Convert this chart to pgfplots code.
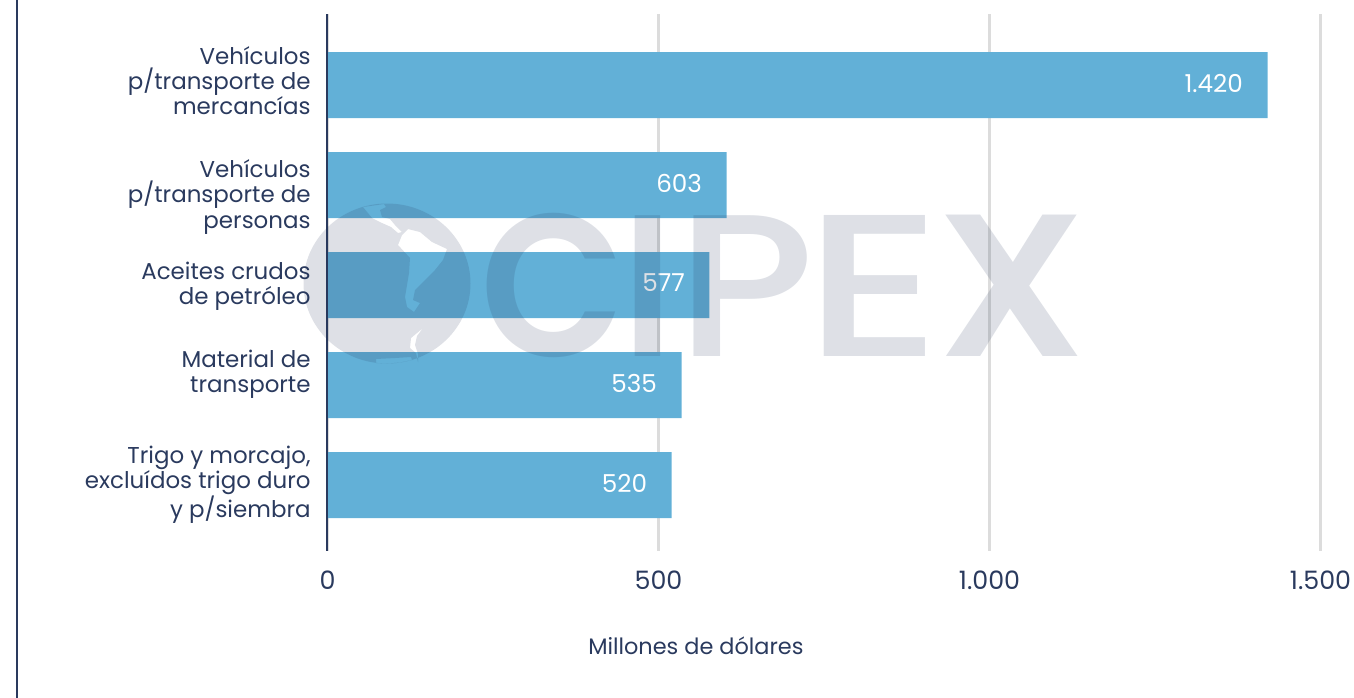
\documentclass[border=0pt]{standalone}
\usepackage{fontspec}
\usepackage{pgfplots}
\pgfplotsset{compat=1.18}
\setmainfont{Poppins}
\newfontfamily\wmfont{Poppins Medium}
\newfontfamily\wmfontb{Poppins SemiBold}
\definecolor{navy}{HTML}{2A3A5E}
\definecolor{barblue}{HTML}{62B0D7}
\definecolor{gridg}{HTML}{DCDCDC}
\definecolor{wm}{HTML}{1F2F55}
\begin{document}
\begin{tikzpicture}
\begin{scope}[x=0.75pt,y=-0.75pt]
\useasboundingbox (0,0) rectangle (1354,697);
\draw[navy,line width=2pt] (17,-2) -- (17,699);
\end{scope}
\begin{axis}[
  at={(245.625pt,-413.25pt)},anchor=south west,
  scale only axis,
  width=744.75pt,height=402.75pt,
  xmin=0,xmax=1500,
  ymin=-0.71,ymax=4.66,
  y dir=reverse,
  xbar,
  bar width=49.5pt,
  bar shift=0pt,
  axis line style={draw=none},
  axis x line*=bottom,
  axis y line*=left,
  xtick={0,500,1000,1500},
  ytick={-0.04,1.12,2.01,2.89,4},
  yticklabels={{Vehículos\\p/transporte de\\mercancías},{Vehículos\\p/transporte de\\personas},{Aceites crudos\\de petróleo},{Material de\\transporte},{Trigo y morcajo,\\excluídos trigo duro\\y p/siembra}},
  yticklabel style={align=right,font=\fontsize{17.2}{18.8}\selectfont,text=navy,inner sep=0pt,xshift=-12.5pt},
  xticklabel style={font=\fontsize{19}{20}\selectfont,text=navy,inner sep=0pt,yshift=-14.8pt},
  major tick length=0pt,
  xmajorgrids,
  grid style={gridg,line width=1.7pt},
  /pgf/number format/.cd,1000 sep={.},assume math mode=true,
  /pgfplots/.cd,
  xlabel={Millones de dólares},
  every axis x label/.style={at={(axis description cs:0.371,-0.177)},anchor=center,font=\fontsize{16.8}{20}\selectfont,text=navy},
  nodes near coords,
  nodes near coords style={anchor=east,xshift=-15pt,yshift=1.5pt,text=white,font=\fontsize{18.5}{20}\selectfont},
  clip=false,
]
\addplot[fill=barblue,draw=none] coordinates {(1420,0) (603,1) (577,2) (535,3) (520,4)};
\draw[navy,line width=1.5pt] (axis cs:0,-0.71) -- (axis cs:0,4.66);
\end{axis}
\begin{scope}[x=0.75pt,y=-0.75pt,every node/.style={anchor=base,inner sep=0pt,text=wm,text opacity=0.15}]
% CIPEX watermark
\node[xscale=0.93,font=\wmfontb\fontsize{152}{152}\selectfont] at (553,356) {C};
\node[xscale=1.1,font=\wmfont\fontsize{152}{152}\selectfont] at (647.5,356) {I};
\node[xscale=1.15,font=\wmfont\fontsize{152}{152}\selectfont] at (746,356) {P};
\node[xscale=1.3,font=\wmfont\fontsize{152}{152}\selectfont] at (874,356) {E};
\node[xscale=1.07,font=\wmfontb\fontsize{152}{152}\selectfont] at (1012,356) {X};
\fill[wm,opacity=0.15,even odd rule]
  (387,283.5) ellipse (83.5 and 80)
  (363,207) -- (372,218) -- (382,223) -- (391,227) -- (398,233) -- (402,232) -- (395,225) -- (390,219) -- (382,217) -- (380,210) -- (386,207) -- (384,204) -- cycle
  (398,245) -- (402,235) -- (408,229) -- (420,232) -- (432,242) -- (447,249) -- (443,260) -- (435,270) -- (425,280) -- (415,290) -- (413,300) -- (420,303) -- (414,312) -- (407,307) -- (405,297) -- (409,273) -- (410,258) -- cycle
  (423,328) -- (411,338) -- (410,348) -- (416,353) -- (418,362) -- (418,354) -- (415,345) -- (417,336) -- cycle
  (376,363) -- (376,359) -- (395,358) -- (411,357) -- (412,360) -- (400,362.5) -- (388,363.5) -- cycle;
\end{scope}
\end{tikzpicture}
\end{document}
